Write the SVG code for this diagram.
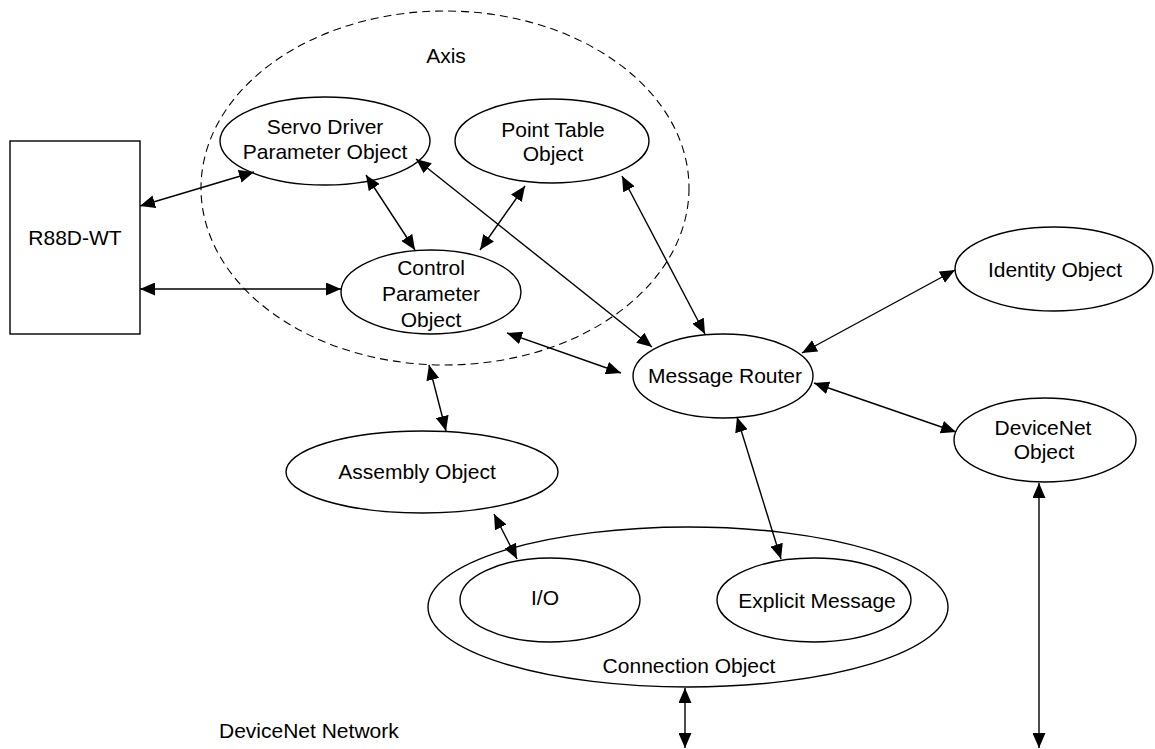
<svg xmlns="http://www.w3.org/2000/svg" width="1155" height="749" viewBox="0 0 1155 749">
<style>
.n{fill:#fff;stroke:#000;stroke-width:1.4}
.d{fill:none;stroke:#000;stroke-width:1.1;stroke-dasharray:8,5}
.t{font-family:"Liberation Sans",Arial,sans-serif;font-size:21px;fill:#000;text-anchor:middle}
.c line{stroke:#000;stroke-width:1.4;marker-start:url(#a);marker-end:url(#a)}
</style>
<defs>
<marker id="a" markerUnits="userSpaceOnUse" markerWidth="16" markerHeight="13" refX="15" refY="6.5" orient="auto-start-reverse" viewBox="0 0 16 13">
<path d="M0,0 L15,6.5 L0,13 z" fill="#000"/>
</marker>
</defs>
<rect width="1155" height="749" fill="#fff"/>
<g id="axis">
<ellipse class="d" cx="445" cy="188" rx="244" ry="177"/>
<text class="t" x="446" y="63">Axis</text>
</g>
<g id="r88d">
<rect class="n" x="10" y="141" width="130" height="193"/>
<text class="t" x="75" y="245">R88D-WT</text>
</g>
<g id="servo">
<ellipse class="n" cx="325" cy="141" rx="105" ry="44"/>
<text class="t" x="325" y="134">Servo Driver</text>
<text class="t" x="325" y="159">Parameter Object</text>
</g>
<g id="pointtable">
<ellipse class="n" cx="552" cy="141" rx="97" ry="42"/>
<text class="t" x="553" y="137">Point Table</text>
<text class="t" x="553" y="161">Object</text>
</g>
<g id="control">
<ellipse class="n" cx="431" cy="292" rx="90" ry="42"/>
<text class="t" x="431" y="275">Control</text>
<text class="t" x="431" y="301">Parameter</text>
<text class="t" x="431" y="327">Object</text>
</g>
<g id="router">
<ellipse class="n" cx="723" cy="376" rx="90" ry="42"/>
<text class="t" x="725" y="383">Message Router</text>
</g>
<g id="identity">
<ellipse class="n" cx="1054" cy="269" rx="99" ry="42"/>
<text class="t" x="1055" y="277">Identity Object</text>
</g>
<g id="devicenet">
<ellipse class="n" cx="1045" cy="440" rx="91" ry="42"/>
<text class="t" x="1043" y="435">DeviceNet</text>
<text class="t" x="1044" y="459">Object</text>
</g>
<g id="assembly">
<ellipse class="n" cx="422" cy="472" rx="136" ry="41"/>
<text class="t" x="417" y="479">Assembly Object</text>
</g>
<g id="connection">
<ellipse class="n" cx="688" cy="607" rx="260" ry="80"/>
<text class="t" x="689" y="673">Connection Object</text>
</g>
<g id="io">
<ellipse class="n" cx="550" cy="600" rx="90" ry="42"/>
<text class="t" x="545" y="605">I/O</text>
</g>
<g id="explicit">
<ellipse class="n" cx="814" cy="600" rx="97" ry="42"/>
<text class="t" x="817" y="608">Explicit Message</text>
</g>
<g id="network">
<text class="t" x="219" y="738" style="text-anchor:start">DeviceNet Network</text>
</g>
<g id="connectors" class="c">
<line x1="140" y1="206" x2="254" y2="172"/>
<line x1="140" y1="289" x2="341" y2="289"/>
<line x1="366" y1="175" x2="415" y2="250"/>
<line x1="525" y1="186" x2="480" y2="250"/>
<line x1="416" y1="159" x2="652" y2="347"/>
<line x1="622" y1="176" x2="705" y2="334"/>
<line x1="507" y1="333" x2="621" y2="373"/>
<line x1="955" y1="270" x2="802" y2="353"/>
<line x1="814" y1="383" x2="956" y2="432"/>
<line x1="429" y1="365" x2="446" y2="431"/>
<line x1="494" y1="514" x2="517" y2="559"/>
<line x1="737" y1="417" x2="781" y2="559"/>
<line x1="685" y1="688" x2="685" y2="748"/>
<line x1="1039" y1="483" x2="1039" y2="748"/>
</g>
</svg>
